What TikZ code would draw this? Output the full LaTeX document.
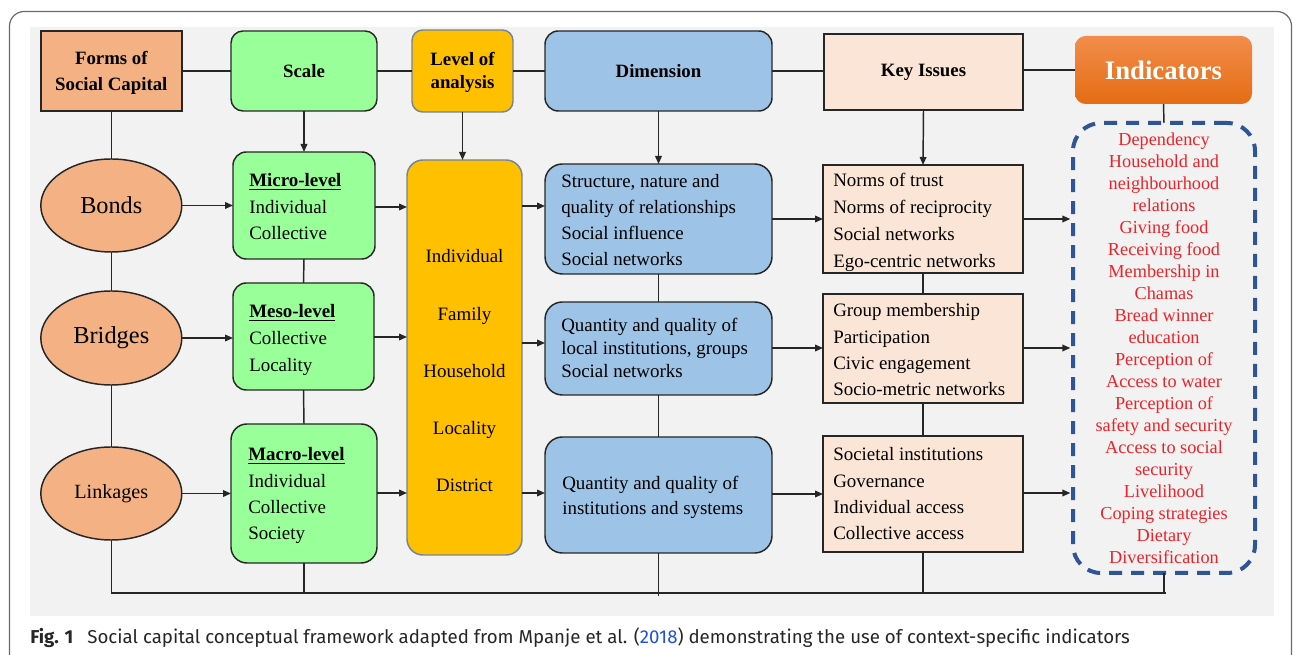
\documentclass[tikz,border=0pt]{standalone}
\usepackage{fontspec}
\setmainfont{Liberation Serif}
\newfontfamily\capfont{Fira Sans}
\usetikzlibrary{arrows.meta,shapes.geometric}
\definecolor{salmon}{HTML}{F4B183}
\definecolor{lgreen}{HTML}{99FF99}
\definecolor{gold}{HTML}{FFC000}
\definecolor{lblue}{HTML}{9DC3E6}
\definecolor{peach}{HTML}{FBE5D6}
\definecolor{bgray}{HTML}{F2F2F2}
\definecolor{dblue}{HTML}{2F5597}
\definecolor{ired}{HTML}{E8242A}
\definecolor{orgtop}{HTML}{F28D4A}
\definecolor{orgbot}{HTML}{E46C14}
\definecolor{edge}{HTML}{262626}
\definecolor{ygedge}{HTML}{74849A}
\definecolor{linkblue}{HTML}{1F4FE0}
\definecolor{framegray}{HTML}{6A6A6A}
\begin{document}
\begin{tikzpicture}[x=0.75pt,y=-0.75pt,
  sz/.style 2 args={minimum width=#1*0.75pt, minimum height=#2*0.75pt},
  base/.style={inner sep=0pt, outer sep=0pt, line width=1.1pt, draw=edge},
  hdr/.style={font=\fontsize{14.1}{19.5}\selectfont\bfseries, align=center},
  txt/.style={font=\fontsize{14.2}{17}\selectfont, inner sep=0pt, anchor=base west},
  ctxt/.style={font=\fontsize{14.2}{17}\selectfont, inner sep=0pt, anchor=base},
  htxt/.style={font=\fontsize{14.1}{17}\selectfont\bfseries, inner sep=0pt, anchor=base},
  redtxt/.style={font=\fontsize{13.7}{16}\selectfont, text=ired, inner sep=0pt, anchor=base},
  ln/.style={line width=1.1pt, draw=edge},
  arr/.style={ln, -{Triangle[length=6pt,width=5pt]}}
]
\useasboundingbox (0,0) rectangle (1293,655);
\clip (0,0) rectangle (1293,655);
\draw[framegray, line width=0.9pt, rounded corners=11pt] (9.5,11.5) rectangle (1291.5,720);
\fill[bgray] (30,27) rectangle (1274,616);

% top row
\node[base, rectangle, fill=salmon, sz={141}{80}] (forms) at (111.3,71) {};
\node[htxt] (forms-0) at (111.3,65) {Forms of};
\node[htxt] (forms-1) at (111.3,91) {Social Capital};
\node[base, rectangle, rounded corners=9pt, fill=lgreen, sz={146}{80}, hdr] (scale) at (304,71) {Scale};
\node[base, rectangle, rounded corners=8pt, fill=gold, draw=ygedge, sz={101}{82}] (level) at (462.5,71) {};
\node[htxt] (level-0) at (462.5,66) {Level of};
\node[htxt] (level-1) at (462.5,89) {analysis};
\node[base, rectangle, rounded corners=10pt, fill=lblue, sz={227}{80}, hdr] (dim) at (658.5,71) {Dimension};
\node[base, rectangle, fill=peach, sz={199}{76}, hdr] (key) at (923.5,72) {Key Issues};
\node[inner sep=0pt, outer sep=0pt, rectangle, rounded corners=8pt, top color=orgtop, bottom color=orgbot, sz={177}{68}, font=\fontsize{20}{24}\selectfont\bfseries, text=white] (ind) at (1163.5,70) {Indicators};

% forms of social capital
\node[base, ellipse, fill=salmon, sz={141}{93}, font=\fontsize{18.2}{22}\selectfont] (bonds) at (111.3,205.5) {Bonds};
\node[base, ellipse, fill=salmon, sz={141}{94}, font=\fontsize{18.3}{22}\selectfont] (bridges) at (111.3,338) {Bridges};
\node[base, ellipse, fill=salmon, sz={141}{93}, font=\fontsize{15.1}{18}\selectfont] (linkages) at (111.3,493.5) {Linkages};

% scale boxes
\node[base, rectangle, rounded corners=10pt, fill=lgreen, sz={142}{107}] (micro) at (304,205.5) {};
\node[base, rectangle, rounded corners=10pt, fill=lgreen, sz={141}{107}] (meso) at (303.5,336.5) {};
\node[base, rectangle, rounded corners=12pt, fill=lgreen, sz={146}{139}] (macro) at (304,493.5) {};
\foreach \t [count=\i from 0] in {{\textbf{\underline{Micro-level}}},Individual,Collective}
  \node[txt] (micro-\i) at (249,{187+26.5*\i}) {\t};
\foreach \t [count=\i from 0] in {{\textbf{\underline{Meso-level}}},Collective,Locality}
  \node[txt] (meso-\i) at (249,{318+27*\i}) {\t};
\foreach \t [count=\i from 0] in {{\textbf{\underline{Macro-level}}},Individual,Collective,Society}
  \node[txt] (macro-\i) at (248,{461+26.3*\i}) {\t};

% level of analysis
\node[base, rectangle, rounded corners=12pt, fill=gold, draw=ygedge, sz={115}{395}] (lvl) at (464.5,357.5) {};
\foreach \t [count=\i from 0] in {Individual,Family,Household,Locality,District}
  \node[ctxt] (lvl-\i) at (464.5,{263+57.25*\i}) {\t};

% dimension boxes
\node[base, rectangle, rounded corners=13pt, fill=lblue, sz={227}{110}] (blue1) at (658.5,219) {};
\node[base, rectangle, rounded corners=13pt, fill=lblue, sz={227}{93}] (blue2) at (658.5,348.5) {};
\node[base, rectangle, rounded corners=13pt, fill=lblue, sz={227}{116}] (blue3) at (658.5,495) {};
\foreach \t [count=\i from 0] in {{Structure, nature and},quality of relationships,Social influence,Social networks}
  \node[txt] (blue1-\i) at (561,{188+26*\i}) {\t};
\foreach \t [count=\i from 0] in {Quantity and quality of,{local institutions, groups},Social networks}
  \node[txt] (blue2-\i) at (561,{332+23*\i}) {\t};
\foreach \t [count=\i from 0] in {Quantity and quality of,institutions and systems}
  \node[txt] (blue3-\i) at (562,{490+25*\i}) {\t};

% key issues boxes
\node[base, rectangle, fill=peach, sz={200}{108}] (ki1) at (923,219) {};
\node[base, rectangle, fill=peach, sz={200}{109}] (ki2) at (923,348.5) {};
\node[base, rectangle, fill=peach, sz={200}{116}] (ki3) at (923,494) {};
\foreach \t [count=\i from 0] in {Norms of trust,Norms of reciprocity,Social networks,Ego-centric networks}
  \node[txt] (ki1-\i) at (833,{187+26.7*\i}) {\t};
\foreach \t [count=\i from 0] in {Group membership,Participation,Civic engagement,Socio-metric networks}
  \node[txt] (ki2-\i) at (833,{317+26.3*\i}) {\t};
\foreach \t [count=\i from 0] in {Societal institutions,Governance,Individual access,Collective access}
  \node[txt] (ki3-\i) at (833,{461+26.3*\i}) {\t};

% indicators
\node[rectangle, inner sep=0pt, outer sep=0pt, draw=dblue, line width=3pt, dash pattern=on 9.75pt off 6.75pt, rounded corners=21pt, sz={182}{450}] (dash) at (1164,348) {};
\foreach \t [count=\i from 0] in {Dependency,Household and,neighbourhood,relations,Giving food,Receiving food,Membership in,Chamas,Bread winner,education,Perception of,Access to water,Perception of,safety and security,Access to social,security,Livelihood,Coping strategies,Dietary,Diversification}
  \node[redtxt] (indt-\i) at (1164,{146+22*\i}) {\t};

% connectors top row
\draw[ln] (forms.east) -- (scale.west);
\draw[ln] (scale.east) -- (level.west);
\draw[ln] (level.east) -- (dim.west);
\draw[ln] (dim.east) -- (key.west |- dim.east);
\draw[ln] (key.east |- ind.west) -- (ind.west);

% bottom line
\coordinate (bl) at (111.3,593);
\coordinate (br) at (1166,593);
\draw[ln] (forms.south) -- (bonds.north);
\draw[ln] (bonds.south) -- (bridges.north);
\draw[ln] (bridges.south) -- (linkages.north);
\draw[ln] (linkages.south) -- (bl) -- (br);

\draw[arr] (scale.south) -- (micro.north);
\draw[ln] (micro.south) -- (meso.north);
\draw[ln] (meso.south) -- (macro.north);
\draw[ln] (macro.south) -- (macro.south |- bl);

\draw[arr] (level.south) -- (level.south |- lvl.north);

\draw[arr] (dim.south) -- (blue1.north);
\draw[ln] (blue1.south) -- (blue2.north);
\draw[ln] (blue2.south) -- (blue3.north);
\draw[ln] (blue3.south) -- ([yshift=-2pt]blue3.south |- bl);

\draw[arr] (key.south) -- (ki1.north);
\draw[ln] (ki1.south) -- (ki2.north);
\draw[ln] (ki2.south) -- (ki3.north);
\draw[ln] (ki3.south) -- (ki3.south |- bl);

\draw[ln] (ind.south) -- (dash.north);
\draw[ln] (dash.south) -- (dash.south |- bl);

% horizontal arrows
\draw[arr] (bonds.east) -- (bonds.east -| micro.west);
\draw[arr] (bridges.east) -- (bridges.east -| meso.west);
\draw[arr] (linkages.east) -- (linkages.east -| macro.west);
\draw[arr] (micro.east |- 0,207) -- (lvl.west |- 0,207);
\draw[arr] (meso.east |- 0,337) -- (lvl.west |- 0,337);
\draw[arr] (macro.east |- 0,493) -- (lvl.west |- 0,493);
\draw[arr] (lvl.east |- 0,206) -- (blue1.west |- 0,206);
\draw[arr] (lvl.east |- 0,343) -- (blue2.west |- 0,343);
\draw[arr] (lvl.east |- 0,493) -- (blue3.west |- 0,493);
\draw[arr] (blue1.east |- 0,219) -- (ki1.west |- 0,219);
\draw[arr] (blue2.east |- 0,348) -- (ki2.west |- 0,348);
\draw[arr] (blue3.east |- 0,494) -- (ki3.west |- 0,494);
\draw[arr] (ki1.east |- 0,219) -- ([xshift=-2pt]dash.west |- 0,219);
\draw[arr] (ki2.east |- 0,348) -- ([xshift=-2pt]dash.west |- 0,348);
\draw[arr] (ki3.east |- 0,493) -- ([xshift=-2pt]dash.west |- 0,493);

% caption
\node[anchor=base west, inner sep=0pt, font=\capfont\fontsize{14}{16}\selectfont, text=black!85] (cap) at (30,643) {\textbf{Fig. 1}\hspace{0.75em}Social capital conceptual framework adapted from Mpanje et al. (\textcolor{linkblue}{2018}) demonstrating the use of context-specific indicators};
\end{tikzpicture}
\end{document}
